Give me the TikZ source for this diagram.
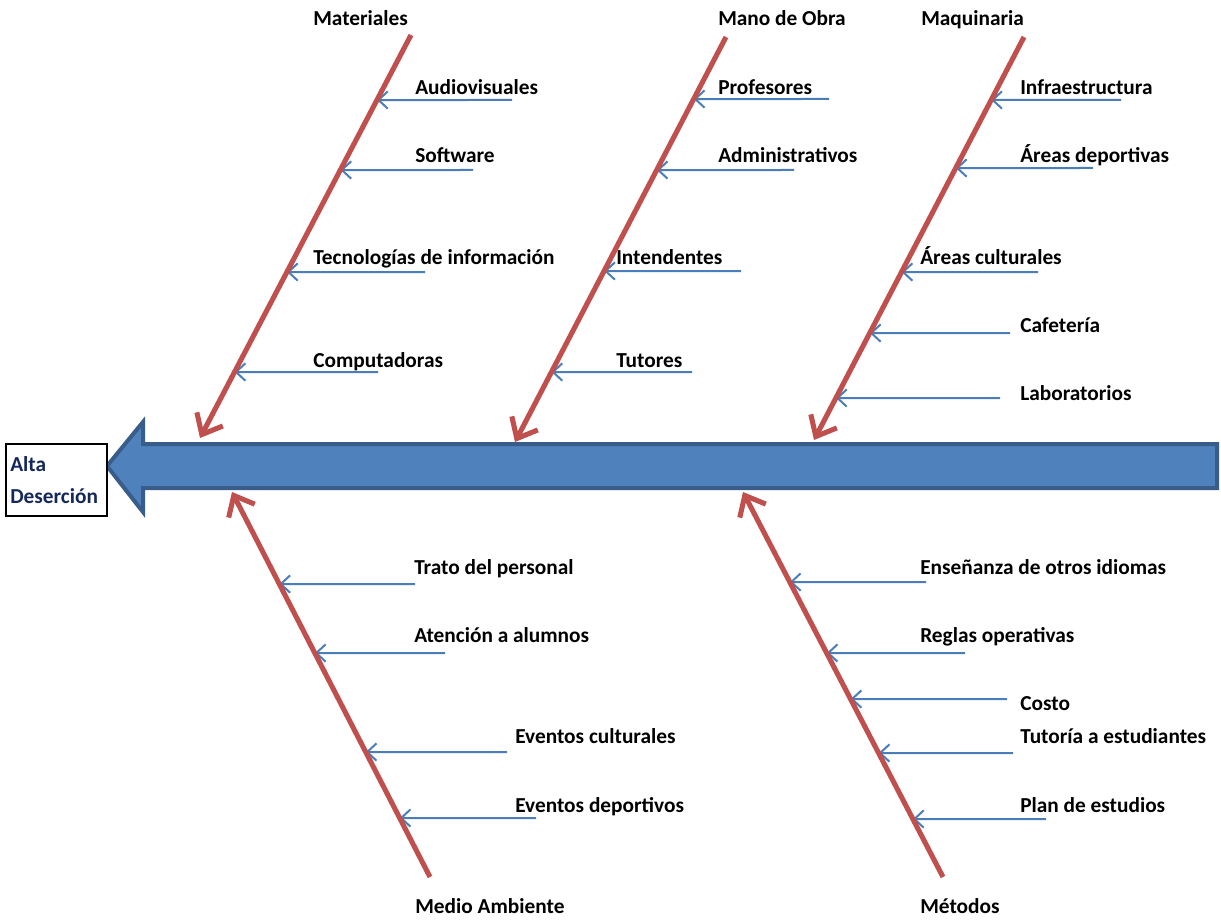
\documentclass[tikz,border=0pt]{standalone}
\usepackage{fontspec}
\setmainfont{Carlito}
\usetikzlibrary{arrows.meta}
\definecolor{redbone}{HTML}{C0504D}
\definecolor{bluesub}{HTML}{4A7EBB}
\definecolor{spinefill}{HTML}{4F81BD}
\definecolor{spineedge}{HTML}{385D8A}
\definecolor{navytext}{HTML}{14285A}
\tikzset{
  lbl/.style={inner sep=0pt, anchor=base west, font=\fontsize{16}{18}\selectfont\bfseries, text=black},
  ttl/.style={inner sep=0pt, anchor=base west, font=\fontsize{16}{18}\selectfont\bfseries, text=black},
  efx/.style={inner sep=0pt, anchor=base west, font=\fontsize{16}{18}\selectfont\bfseries, text=navytext},
  bone/.style={draw=redbone, line width=3.8pt, -{Straight Barb[length=13pt,width=22pt]}},
  subarrow/.style={draw=bluesub, line width=1.5pt, -{Straight Barb[length=7pt,width=13pt]}},
  spine/.style={draw=spineedge, fill=spinefill, line width=3pt, line join=miter},
  headbox/.style={draw=black, line width=2.2pt, fill=white}
}
\newcommand\cause[8]{%
  \coordinate (#3s) at (#4,#5);
  \coordinate (#3h) at (0,#5);
  \coordinate (#3e) at (intersection of #1--#2 and #3s--#3h);
  \node[lbl] (#3) at (#6,#7) {#8};
  \draw[subarrow] (#3s) -- (#3e);
}
\begin{document}
\begin{tikzpicture}[x=0.75pt,y=-0.75pt]
\useasboundingbox (0,0) rectangle (1221,920);
\fill[white] (0,0) rectangle (1221,920);
% spine arrow
\draw[spine] (107,466) -- (143,422) -- (143,444) -- (1217,444) -- (1217,488) -- (143,488) -- (143,512) -- cycle;
% effect box
\draw[headbox] (6,444) rectangle (107,516);
\node[efx] (efA) at (10,471) {Alta};
\node[efx] (efB) at (10,503) {Deserción};
% bones coordinates
\coordinate (matT) at (411,35);  \coordinate (matB) at (200,438);
\coordinate (manT) at (726,37);  \coordinate (manB) at (515,442);
\coordinate (maqT) at (1024,37); \coordinate (maqB) at (814,440);
\coordinate (medT) at (232,492); \coordinate (medB) at (430,877);
\coordinate (metT) at (743,492); \coordinate (metB) at (943,877);
% titles
\node[ttl] (tMat) at (313,26) {Materiales};
\node[ttl] (tMan) at (718,26) {Mano de Obra};
\node[ttl] (tMaq) at (921,26) {Maquinaria};
\node[ttl] (tMed) at (415,913) {Medio Ambiente};
\node[ttl] (tMet) at (920,913) {Métodos};
% causes
\cause{matT}{matB}{a1}{512}{100}{415}{95}{Audiovisuales}
\cause{matT}{matB}{a2}{473}{170}{415}{163}{Software}
\cause{matT}{matB}{a3}{425}{272}{313}{264}{Tecnologías de información}
\cause{matT}{matB}{a4}{378}{372}{313}{367}{Computadoras}
\cause{manT}{manB}{b1}{829}{99}{718}{95}{Profesores}
\cause{manT}{manB}{b2}{794}{170}{718}{163}{Administrativos}
\cause{manT}{manB}{b3}{741}{271}{616}{264}{Intendentes}
\cause{manT}{manB}{b4}{692}{372}{616}{367}{Tutores}
\cause{maqT}{maqB}{c1}{1121}{100}{1020}{95}{Infraestructura}
\cause{maqT}{maqB}{c2}{1093}{168}{1020}{163}{Áreas deportivas}
\cause{maqT}{maqB}{c3}{1038}{272}{920}{264}{Áreas culturales}
\cause{maqT}{maqB}{c4}{1010}{333}{1020}{332}{Cafetería}
\cause{maqT}{maqB}{c5}{1000}{398}{1020}{400}{Laboratorios}
\cause{medT}{medB}{d1}{415}{584}{414}{574}{Trato del personal}
\cause{medT}{medB}{d2}{445}{653}{414}{642}{Atención a alumnos}
\cause{medT}{medB}{d3}{507}{752}{515}{743}{Eventos culturales}
\cause{medT}{medB}{d4}{536}{818}{515}{812}{Eventos deportivos}
\cause{metT}{metB}{e1}{926}{582}{920}{574}{Enseñanza de otros idiomas}
\cause{metT}{metB}{e2}{965}{653}{920}{642}{Reglas operativas}
\cause{metT}{metB}{e3}{1007}{699}{1020}{710}{Costo}
\cause{metT}{metB}{e4}{1013}{753}{1020}{743}{Tutoría a estudiantes}
\cause{metT}{metB}{e5}{1046}{819}{1020}{812}{Plan de estudios}
% bones
\draw[bone] (matT) -- (matB);
\draw[bone] (manT) -- (manB);
\draw[bone] (maqT) -- (maqB);
\draw[bone] (medB) -- (medT);
\draw[bone] (metB) -- (metT);
\end{tikzpicture}
\end{document}
